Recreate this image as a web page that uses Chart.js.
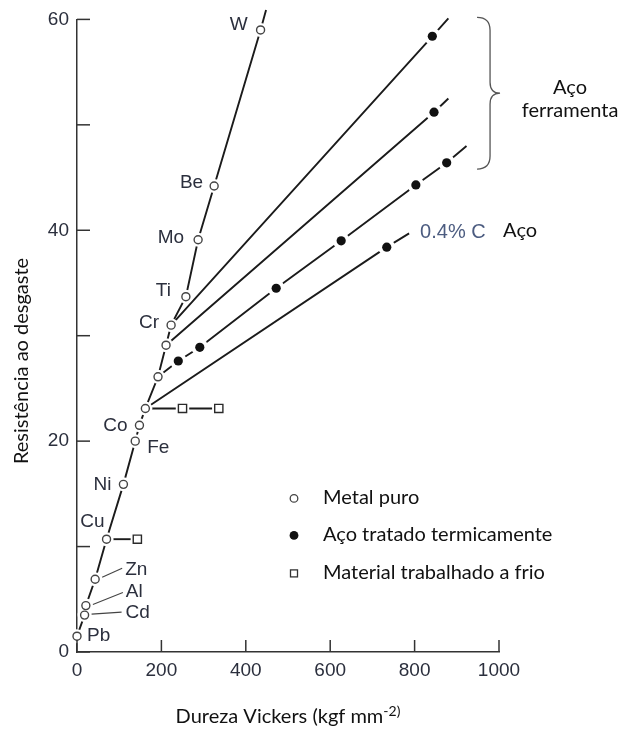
<!DOCTYPE html>
<html>
<head>
<meta charset="utf-8">
<script src="https://cdn.jsdelivr.net/npm/chart.js@4.4.1/dist/chart.umd.min.js"></script>
<style>
  html, body { margin: 0; padding: 0; background: #fff; }
  #wrap { width: 619px; height: 729px; position: relative; }
</style>
</head>
<body>
<div id="wrap"><canvas id="wear-chart"></canvas></div>
<script>
// pure metals, in order along the curve
var metalNames = ['Pb', 'Cd', 'Al', 'Zn', 'Cu', 'Ni', 'Fe', 'Co', '', '', '', 'Cr', 'Ti', 'Mo', 'Be', 'W'];
var metalHardness = [0, 18, 21, 43, 70, 110, 138, 148, 162, 192, 211, 223, 258, 287, 325, 435];
var metalWear = [1.5, 3.5, 4.4, 6.9, 10.7, 15.9, 20.0, 21.5, 23.1, 26.1, 29.1, 31.0, 33.7, 39.1, 44.2, 59.0];
// the metal curve runs on a little past W
var metalCurveHardness = metalHardness.concat([448]);
var metalCurveWear = metalWear.concat([60.9]);

// heat treated steels
var steelHardness = [842, 846, 240, 291, 472, 626, 803, 876, 734];
var steelWear = [58.4, 51.2, 27.6, 28.9, 34.5, 39.0, 44.3, 46.4, 38.4];

// steel lines start on a pure metal and run past the last steel
var steelLineHardness = [
  [223, 842, 880],
  [211, 846, 880],
  [192, 240, 291, 472, 626, 803, 876, 923],
  [162, 734, 787]
];
var steelLineWear = [
  [31.0, 58.4, 60.1],
  [29.1, 51.2, 52.5],
  [26.1, 27.6, 28.9, 34.5, 39.0, 44.3, 46.4, 48.0],
  [23.1, 38.4, 39.7]
];

// cold worked material
var coldHardness = [250, 336, 143];
var coldWear = [23.1, 23.1, 10.7];
var coldLineHardness = [[162, 250, 336], [70, 143]];
var coldLineWear = [[23.1, 23.1, 23.1], [10.7, 10.7]];

var xTicks = [0, 200, 400, 600, 800, 1000];
var yTicks = [0, 10, 20, 30, 40, 50, 60];
var yTickLabels = ['0', '', '20', '', '40', '', '60'];

var legendLabels = ['Metal puro', 'Aço tratado termicamente', 'Material trabalhado a frio'];

// label placement next to each metal: dx, dy, align, optional leader line
var metalLabelPos = {
  Pb: [10, 0, 'left'],
  Cd: [41, -2, 'left', [7, -1, 37, -3]],
  Al: [40, -14, 'left', [7, -1, 37, -13]],
  Zn: [30, -9, 'left', [7, -2, 27, -11]],
  Cu: [-2, -17, 'right'],
  Ni: [-12, 0, 'right'],
  Fe: [12, 7, 'left'],
  Co: [-12, 0, 'right'],
  Cr: [-12, -2, 'right'],
  Ti: [-15, -6, 'right'],
  Mo: [-14, -2, 'right'],
  Be: [-11, -3, 'right'],
  W: [-13, -5, 'right']
};

var numFont = '19px "Liberation Sans", Arial, sans-serif';
var textFont = '20px Lato, "Open Sans", sans-serif';
var numColor = '#2b2f3d';

function points(xs, ys) {
  return xs.map(function(x, i) { return { x: x, y: ys[i] }; });
}

function line(xs, ys) {
  return { data: points(xs, ys), showLine: true, pointRadius: 0, borderColor: '#1b1b1b',
           borderWidth: 1.9, tension: 0, clip: false, order: 3 };
}

function halo(xs, ys, style, r) {
  return { data: points(xs, ys), pointStyle: style, pointRadius: r, pointBackgroundColor: '#fff',
           pointBorderWidth: 0, pointBorderColor: '#fff', clip: false, order: 2 };
}

var datasets = [
  { data: points(metalHardness, metalWear), pointStyle: 'circle', pointRadius: 4,
    pointBackgroundColor: '#fff', pointBorderColor: '#444', pointBorderWidth: 1.4, clip: false, order: 0 },
  { data: points(steelHardness, steelWear), pointStyle: 'circle', pointRadius: 4.6,
    pointBackgroundColor: '#111', pointBorderColor: '#111', pointBorderWidth: 0, clip: false, order: 0 },
  { data: points(coldHardness, coldWear), pointStyle: 'rect', pointRadius: 5.8,
    pointBackgroundColor: '#fff', pointBorderColor: '#2a2a2a', pointBorderWidth: 1.4, clip: false, order: 0 },
  halo(metalHardness, metalWear, 'circle', 7),
  halo(steelHardness, steelWear, 'circle', 8.5),
  halo(coldHardness, coldWear, 'rect', 9.5),
  line(metalCurveHardness, metalCurveWear)
];
steelLineHardness.forEach(function(xs, i) { datasets.push(line(xs, steelLineWear[i])); });
coldLineHardness.forEach(function(xs, i) { datasets.push(line(xs, coldLineWear[i])); });

var annotate = {
  id: 'annotate',
  afterDraw: function(chart) {
    var ctx = chart.ctx, xs = chart.scales.x, ys = chart.scales.y, area = chart.chartArea;
    ctx.save();

    // tick marks point into the plot
    ctx.strokeStyle = '#333';
    ctx.lineWidth = 1.5;
    xs.ticks.forEach(function(t) {
      var px = xs.getPixelForValue(t.value);
      ctx.beginPath(); ctx.moveTo(px, area.bottom); ctx.lineTo(px, area.bottom - 12); ctx.stroke();
    });
    ys.ticks.forEach(function(t) {
      var py = ys.getPixelForValue(t.value);
      ctx.beginPath(); ctx.moveTo(area.left, py); ctx.lineTo(area.left + 13, py); ctx.stroke();
    });

    // metal names
    ctx.font = numFont;
    ctx.fillStyle = numColor;
    ctx.textBaseline = 'middle';
    metalNames.forEach(function(name, i) {
      var pos = metalLabelPos[name];
      if (!pos) return;
      var px = xs.getPixelForValue(metalHardness[i]);
      var py = ys.getPixelForValue(metalWear[i]);
      ctx.textAlign = pos[2];
      ctx.fillText(name, px + pos[0], py + pos[1]);
      if (pos[3]) {
        ctx.strokeStyle = '#444';
        ctx.lineWidth = 1.1;
        ctx.beginPath();
        ctx.moveTo(px + pos[3][0], py + pos[3][1]);
        ctx.lineTo(px + pos[3][2], py + pos[3][3]);
        ctx.stroke();
      }
    });

    // 0.4% C steel label at the end of the lowest line
    var last = steelLineHardness.length - 1;
    var endX = xs.getPixelForValue(steelLineHardness[last][steelLineHardness[last].length - 1]);
    var endY = ys.getPixelForValue(steelLineWear[last][steelLineWear[last].length - 1]);
    ctx.textAlign = 'left';
    ctx.font = '20px "Liberation Sans", Arial, sans-serif';
    ctx.fillStyle = '#4c5c80';
    ctx.fillText('0.4% C', endX + 11, endY - 1);
    ctx.font = textFont;
    ctx.fillStyle = '#111';
    ctx.fillText('Aço', endX + 94, endY - 3);

    // brace round the tool steels
    var bx = xs.getPixelForValue(948);
    var bTop = ys.getPixelForValue(60.2);
    var bBot = ys.getPixelForValue(45.8);
    var bMid = (bTop + bBot) / 2;
    ctx.strokeStyle = '#555';
    ctx.lineWidth = 1.3;
    ctx.beginPath();
    ctx.moveTo(bx, bTop);
    ctx.quadraticCurveTo(bx + 13, bTop, bx + 13, bTop + 13);
    ctx.lineTo(bx + 13, bMid - 11);
    ctx.quadraticCurveTo(bx + 13, bMid, bx + 23, bMid);
    ctx.quadraticCurveTo(bx + 13, bMid, bx + 13, bMid + 11);
    ctx.lineTo(bx + 13, bBot - 13);
    ctx.quadraticCurveTo(bx + 13, bBot, bx, bBot);
    ctx.stroke();
    ctx.textAlign = 'center';
    ctx.fillText('Aço', bx + 93, bMid - 6);
    ctx.fillText('ferramenta', bx + 93, bMid + 17);

    // legend
    var lx = area.left + 217;
    var rows = [area.top + 479, area.top + 516, area.top + 554];
    ctx.lineWidth = 1.3;
    ctx.strokeStyle = '#444';
    ctx.fillStyle = '#fff';
    ctx.beginPath(); ctx.arc(lx, rows[0], 3.8, 0, Math.PI * 2); ctx.fill(); ctx.stroke();
    ctx.fillStyle = '#111';
    ctx.beginPath(); ctx.arc(lx, rows[1], 4.4, 0, Math.PI * 2); ctx.fill();
    ctx.strokeStyle = '#333';
    ctx.strokeRect(lx - 3.5, rows[2] - 3.5, 7, 7);
    ctx.textAlign = 'left';
    legendLabels.forEach(function(label, i) {
      ctx.fillText(label, lx + 29, rows[i] - 1);
    });

    // axis titles
    var main = 'Dureza Vickers (kgf mm';
    var sup = '-2)';
    ctx.font = textFont;
    var w1 = ctx.measureText(main).width;
    ctx.font = '14px Lato, "Open Sans", sans-serif';
    var w2 = ctx.measureText(sup).width;
    var tx = xs.getPixelForValue(500) - (w1 + w2) / 2;
    ctx.textBaseline = 'alphabetic';
    ctx.font = textFont;
    ctx.fillText(main, tx, 723);
    ctx.font = '14px Lato, "Open Sans", sans-serif';
    ctx.fillText(sup, tx + w1, 716);

    ctx.translate(22, 361);
    ctx.rotate(-Math.PI / 2);
    ctx.font = textFont;
    ctx.textAlign = 'center';
    ctx.textBaseline = 'middle';
    ctx.fillText('Resistência ao desgaste', 0, 0);

    ctx.restore();
  }
};

new Chart(document.getElementById('wear-chart'), {
  type: 'scatter',
  data: { datasets: datasets },
  options: {
    responsive: true,
    maintainAspectRatio: false,
    animation: false,
    events: [],
    layout: { padding: { top: 19, right: 120, left: 0, bottom: 0 } },
    plugins: { legend: { display: false }, tooltip: { enabled: false } },
    scales: {
      x: {
        type: 'linear', min: 0, max: 1000,
        afterBuildTicks: function(scale) { scale.ticks = xTicks.map(function(v) { return { value: v }; }); },
        afterFit: function(scale) { scale.height = 77; },
        grid: { display: false, drawTicks: false },
        border: { display: true, color: '#333', width: 1.5 },
        ticks: {
          font: { family: '"Liberation Sans", Arial, sans-serif', size: 19 }, color: numColor, padding: 7, maxRotation: 0,
          callback: function(v) { return String(v); }
        }
      },
      y: {
        type: 'linear', min: 0, max: 60,
        afterBuildTicks: function(scale) { scale.ticks = yTicks.map(function(v) { return { value: v }; }); },
        afterFit: function(scale) { scale.width = 77; },
        grid: { display: false, drawTicks: false },
        border: { display: true, color: '#333', width: 1.5 },
        ticks: {
          font: { family: '"Liberation Sans", Arial, sans-serif', size: 19 }, color: numColor, padding: 8,
          callback: function(v) { return yTickLabels[yTicks.indexOf(v)]; }
        }
      }
    }
  },
  plugins: [annotate]
});
</script>
</body>
</html>
